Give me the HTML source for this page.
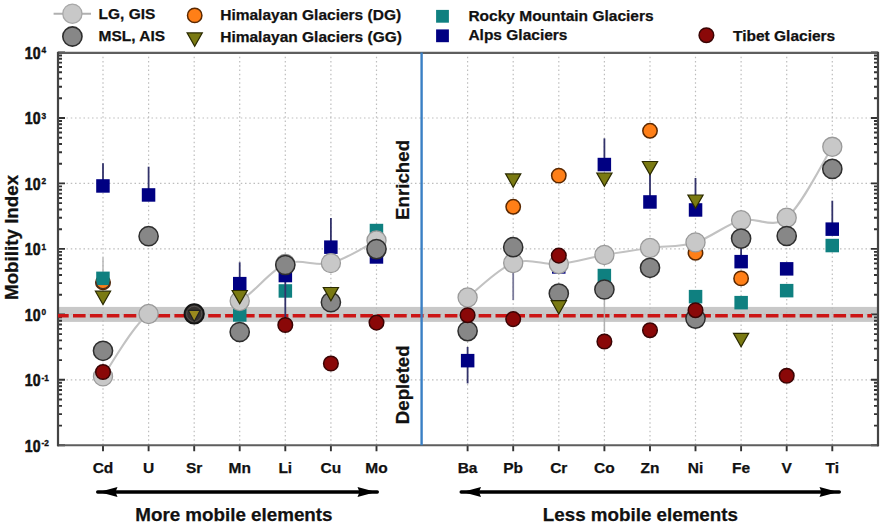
<!DOCTYPE html><html><head><meta charset="utf-8"><style>html,body{margin:0;padding:0;background:#fff;width:890px;height:528px;overflow:hidden}svg{display:block}text{font-family:"Liberation Sans",sans-serif;font-weight:bold;fill:#111;stroke:#111;stroke-width:0.25px}</style></head><body>
<svg width="890" height="528" viewBox="0 0 890 528">
<rect x="58" y="306.9" width="820" height="15" fill="#c8c8c8"/>
<path d="M103.0 52.5V445.3 M148.6 52.5V445.3 M194.2 52.5V445.3 M239.7 52.5V445.3 M285.3 52.5V445.3 M330.9 52.5V445.3 M376.5 52.5V445.3 M467.6 52.5V445.3 M513.2 52.5V445.3 M558.8 52.5V445.3 M604.4 52.5V445.3 M650.0 52.5V445.3 M695.5 52.5V445.3 M741.1 52.5V445.3 M786.7 52.5V445.3 M832.3 52.5V445.3 M58 118.0H878 M58 183.4H878 M58 248.9H878 M58 314.4H878 M58 379.8H878" stroke="#bdbdbd" stroke-width="1.2" stroke-dasharray="1.5 2.75" fill="none"/>
<path d="M58 98.3h4M878 98.3h-4 M58 86.7h4M878 86.7h-4 M58 78.6h4M878 78.6h-4 M58 72.2h4M878 72.2h-4 M58 67.0h4M878 67.0h-4 M58 62.6h4M878 62.6h-4 M58 58.8h4M878 58.8h-4 M58 55.5h4M878 55.5h-4 M58 163.7h4M878 163.7h-4 M58 152.2h4M878 152.2h-4 M58 144.0h4M878 144.0h-4 M58 137.7h4M878 137.7h-4 M58 132.5h4M878 132.5h-4 M58 128.1h4M878 128.1h-4 M58 124.3h4M878 124.3h-4 M58 121.0h4M878 121.0h-4 M58 229.2h4M878 229.2h-4 M58 217.7h4M878 217.7h-4 M58 209.5h4M878 209.5h-4 M58 203.1h4M878 203.1h-4 M58 198.0h4M878 198.0h-4 M58 193.6h4M878 193.6h-4 M58 189.8h4M878 189.8h-4 M58 186.4h4M878 186.4h-4 M58 294.7h4M878 294.7h-4 M58 283.1h4M878 283.1h-4 M58 275.0h4M878 275.0h-4 M58 268.6h4M878 268.6h-4 M58 263.4h4M878 263.4h-4 M58 259.0h4M878 259.0h-4 M58 255.2h4M878 255.2h-4 M58 251.9h4M878 251.9h-4 M58 360.1h4M878 360.1h-4 M58 348.6h4M878 348.6h-4 M58 340.4h4M878 340.4h-4 M58 334.1h4M878 334.1h-4 M58 328.9h4M878 328.9h-4 M58 324.5h4M878 324.5h-4 M58 320.7h4M878 320.7h-4 M58 317.4h4M878 317.4h-4 M58 425.6h4M878 425.6h-4 M58 414.1h4M878 414.1h-4 M58 405.9h4M878 405.9h-4 M58 399.5h4M878 399.5h-4 M58 394.4h4M878 394.4h-4 M58 390.0h4M878 390.0h-4 M58 386.2h4M878 386.2h-4 M58 382.8h4M878 382.8h-4 M58 52.5h7M878 52.5h-7 M58 118.0h7M878 118.0h-7 M58 183.4h7M878 183.4h-7 M58 248.9h7M878 248.9h-7 M58 314.4h7M878 314.4h-7 M58 379.8h7M878 379.8h-7 M58 445.3h7M878 445.3h-7 M103.0 445.3v6 M148.6 445.3v6 M194.2 445.3v6 M239.7 445.3v6 M285.3 445.3v6 M330.9 445.3v6 M376.5 445.3v6 M467.6 445.3v6 M513.2 445.3v6 M558.8 445.3v6 M604.4 445.3v6 M650.0 445.3v6 M695.5 445.3v6 M741.1 445.3v6 M786.7 445.3v6 M832.3 445.3v6" stroke="#333" stroke-width="1.9" fill="none"/>
<path d="M57 52.9H879M57 445.3H879" stroke="#5e5e5e" stroke-width="2.1" fill="none"/>
<path d="M58 51.9V446.3M878 51.9V446.3" stroke="#444" stroke-width="2.2" fill="none"/>
<path d="M58 315.7H872" stroke="#cc1515" stroke-width="3.4" stroke-dasharray="12.6 4.3" stroke-dashoffset="1.9" fill="none"/>
<path d="M513.2 263.0V300.0" stroke="#7a7a9a" stroke-width="1.8"/>
<path d="M604.4 289.5V332.0" stroke="#b0b0b0" stroke-width="1.5"/>
<path d="M103.0 257.6V277.0" stroke="#b8b8b8" stroke-width="1.5"/>
<path d="M421.6 52.5V445.3" stroke="#3a7fc4" stroke-width="2.4"/>
<circle cx="103.0" cy="282.4" r="7.2" fill="#ff7f17" stroke="#5a2800" stroke-width="1.5"/>
<circle cx="513.2" cy="206.8" r="7.2" fill="#ff7f17" stroke="#5a2800" stroke-width="1.5"/>
<circle cx="558.8" cy="175.6" r="7.2" fill="#ff7f17" stroke="#5a2800" stroke-width="1.5"/>
<circle cx="650.0" cy="130.8" r="7.2" fill="#ff7f17" stroke="#5a2800" stroke-width="1.5"/>
<circle cx="695.5" cy="252.8" r="7.2" fill="#ff7f17" stroke="#5a2800" stroke-width="1.5"/>
<circle cx="741.1" cy="278.4" r="7.2" fill="#ff7f17" stroke="#5a2800" stroke-width="1.5"/>
<rect x="96.2" y="271.6" width="13.5" height="13.5" fill="#0f8080"/>
<rect x="233.0" y="308.2" width="13.5" height="13.5" fill="#0f8080"/>
<rect x="278.6" y="284.2" width="13.5" height="13.5" fill="#0f8080"/>
<rect x="369.7" y="223.8" width="13.5" height="13.5" fill="#0f8080"/>
<rect x="597.6" y="268.8" width="13.5" height="13.5" fill="#0f8080"/>
<rect x="688.8" y="289.9" width="13.5" height="13.5" fill="#0f8080"/>
<rect x="734.4" y="295.9" width="13.5" height="13.5" fill="#0f8080"/>
<rect x="779.9" y="283.9" width="13.5" height="13.5" fill="#0f8080"/>
<rect x="825.5" y="238.8" width="13.5" height="13.5" fill="#0f8080"/>
<path d="M95.8 281.4A7.2 7.2 0 0 0 110.2 281.4" fill="none" stroke="#4a3020" stroke-width="1.3"/>
<path d="M103.0 163.3V186.0" stroke="#32326a" stroke-width="1.8"/>
<path d="M148.6 166.7V195.0" stroke="#32326a" stroke-width="1.8"/>
<path d="M239.7 262.3V283.6" stroke="#32326a" stroke-width="1.8"/>
<path d="M285.3 277.0V319.0" stroke="#32326a" stroke-width="1.8"/>
<path d="M330.9 218.0V247.0" stroke="#32326a" stroke-width="1.8"/>
<path d="M604.4 138.4V164.5" stroke="#32326a" stroke-width="1.8"/>
<path d="M650.0 165.0V202.0" stroke="#32326a" stroke-width="1.8"/>
<path d="M695.5 178.0V210.0" stroke="#32326a" stroke-width="1.8"/>
<path d="M741.1 240.0V262.0" stroke="#32326a" stroke-width="1.8"/>
<path d="M832.3 200.7V229.0" stroke="#32326a" stroke-width="1.8"/>
<path d="M467.6 347.0V383.4" stroke="#32326a" stroke-width="1.8"/>
<rect x="96.2" y="179.2" width="13.5" height="13.5" fill="#000082"/>
<rect x="141.8" y="188.2" width="13.5" height="13.5" fill="#000082"/>
<rect x="233.0" y="276.9" width="13.5" height="13.5" fill="#000082"/>
<rect x="278.6" y="268.8" width="13.5" height="13.5" fill="#000082"/>
<rect x="324.1" y="240.4" width="13.5" height="13.5" fill="#000082"/>
<rect x="369.7" y="250.2" width="13.5" height="13.5" fill="#000082"/>
<rect x="460.9" y="353.9" width="13.5" height="13.5" fill="#000082"/>
<rect x="552.0" y="260.2" width="13.5" height="13.5" fill="#000082"/>
<rect x="597.6" y="157.8" width="13.5" height="13.5" fill="#000082"/>
<rect x="643.2" y="195.2" width="13.5" height="13.5" fill="#000082"/>
<rect x="688.8" y="203.2" width="13.5" height="13.5" fill="#000082"/>
<rect x="734.4" y="254.9" width="13.5" height="13.5" fill="#000082"/>
<rect x="779.9" y="262.1" width="13.5" height="13.5" fill="#000082"/>
<rect x="825.5" y="222.4" width="13.5" height="13.5" fill="#000082"/>
<path d="M103.0 376.4C110.6 366.0 133.4 324.4 148.6 314.0M239.7 301.0C254.9 292.7 270.1 270.3 285.3 264.0M285.3 264.0C300.5 257.7 315.7 267.0 330.9 263.1M330.9 263.1C346.1 259.2 368.9 244.3 376.5 240.5" stroke="#c2c2c2" stroke-width="2.1" fill="none"/>
<path d="M467.6 297.5C475.2 291.8 498.0 268.6 513.2 263.0M513.2 263.0C528.4 257.4 543.6 265.3 558.8 264.0M558.8 264.0C574.0 262.7 589.2 257.7 604.4 255.0M604.4 255.0C619.6 252.3 634.8 250.1 650.0 248.0M650.0 248.0C665.2 245.9 680.3 247.0 695.5 242.4M695.5 242.4C710.7 237.8 725.9 224.3 741.1 220.2M741.1 220.2C756.3 216.1 771.5 229.9 786.7 217.7M786.7 217.7C801.9 205.5 824.7 158.6 832.3 146.8" stroke="#c2c2c2" stroke-width="2.1" fill="none"/>
<circle cx="103.0" cy="376.4" r="9.55" fill="#c8c8c8" stroke="#9a9a9a" stroke-width="1.3"/>
<circle cx="148.6" cy="314.0" r="9.55" fill="#c8c8c8" stroke="#9a9a9a" stroke-width="1.3"/>
<circle cx="194.2" cy="314.0" r="9.55" fill="#c8c8c8" stroke="#9a9a9a" stroke-width="1.3"/>
<circle cx="239.7" cy="301.0" r="9.55" fill="#c8c8c8" stroke="#9a9a9a" stroke-width="1.3"/>
<circle cx="285.3" cy="264.0" r="9.55" fill="#c8c8c8" stroke="#9a9a9a" stroke-width="1.3"/>
<circle cx="330.9" cy="263.1" r="9.55" fill="#c8c8c8" stroke="#9a9a9a" stroke-width="1.3"/>
<circle cx="376.5" cy="240.5" r="9.55" fill="#c8c8c8" stroke="#9a9a9a" stroke-width="1.3"/>
<circle cx="467.6" cy="297.5" r="9.55" fill="#c8c8c8" stroke="#9a9a9a" stroke-width="1.3"/>
<circle cx="513.2" cy="263.0" r="9.55" fill="#c8c8c8" stroke="#9a9a9a" stroke-width="1.3"/>
<circle cx="558.8" cy="264.0" r="9.55" fill="#c8c8c8" stroke="#9a9a9a" stroke-width="1.3"/>
<circle cx="604.4" cy="255.0" r="9.55" fill="#c8c8c8" stroke="#9a9a9a" stroke-width="1.3"/>
<circle cx="650.0" cy="248.0" r="9.55" fill="#c8c8c8" stroke="#9a9a9a" stroke-width="1.3"/>
<circle cx="695.5" cy="242.4" r="9.55" fill="#c8c8c8" stroke="#9a9a9a" stroke-width="1.3"/>
<circle cx="741.1" cy="220.2" r="9.55" fill="#c8c8c8" stroke="#9a9a9a" stroke-width="1.3"/>
<circle cx="786.7" cy="217.7" r="9.55" fill="#c8c8c8" stroke="#9a9a9a" stroke-width="1.3"/>
<circle cx="832.3" cy="146.8" r="9.55" fill="#c8c8c8" stroke="#9a9a9a" stroke-width="1.3"/>
<circle cx="103.0" cy="350.8" r="9.6" fill="#878787" stroke="#2e2e2e" stroke-width="1.5"/>
<circle cx="148.6" cy="236.2" r="9.6" fill="#878787" stroke="#2e2e2e" stroke-width="1.5"/>
<circle cx="239.7" cy="332.0" r="9.6" fill="#878787" stroke="#2e2e2e" stroke-width="1.5"/>
<circle cx="285.3" cy="265.0" r="9.6" fill="#878787" stroke="#2e2e2e" stroke-width="1.5"/>
<circle cx="330.9" cy="302.2" r="9.6" fill="#878787" stroke="#2e2e2e" stroke-width="1.5"/>
<circle cx="376.5" cy="249.1" r="9.6" fill="#878787" stroke="#2e2e2e" stroke-width="1.5"/>
<circle cx="467.6" cy="331.1" r="9.6" fill="#878787" stroke="#2e2e2e" stroke-width="1.5"/>
<circle cx="513.2" cy="247.2" r="9.6" fill="#878787" stroke="#2e2e2e" stroke-width="1.5"/>
<circle cx="558.8" cy="293.5" r="9.6" fill="#878787" stroke="#2e2e2e" stroke-width="1.5"/>
<circle cx="604.4" cy="289.5" r="9.6" fill="#878787" stroke="#2e2e2e" stroke-width="1.5"/>
<circle cx="650.0" cy="267.8" r="9.6" fill="#878787" stroke="#2e2e2e" stroke-width="1.5"/>
<circle cx="695.5" cy="318.6" r="9.6" fill="#878787" stroke="#2e2e2e" stroke-width="1.5"/>
<circle cx="741.1" cy="238.6" r="9.6" fill="#878787" stroke="#2e2e2e" stroke-width="1.5"/>
<circle cx="786.7" cy="236.0" r="9.6" fill="#878787" stroke="#2e2e2e" stroke-width="1.5"/>
<circle cx="832.3" cy="168.9" r="9.6" fill="#878787" stroke="#2e2e2e" stroke-width="1.5"/>
<circle cx="194.2" cy="313.9" r="9.7" fill="#363230" stroke="#141414" stroke-width="1.8"/>
<circle cx="194.2" cy="313.9" r="7.6" fill="none" stroke="#5a5654" stroke-width="0.9"/>
<path d="M95.4 291.2H110.6L103.0 304.6Z" fill="#7a7a12" stroke="#2a2a00" stroke-width="1.2" stroke-linejoin="miter"/>
<path d="M232.1 290.5H247.3L239.7 303.9Z" fill="#7a7a12" stroke="#2a2a00" stroke-width="1.2" stroke-linejoin="miter"/>
<path d="M323.3 287.5H338.5L330.9 300.9Z" fill="#7a7a12" stroke="#2a2a00" stroke-width="1.2" stroke-linejoin="miter"/>
<path d="M505.6 173.9H520.8L513.2 187.3Z" fill="#7a7a12" stroke="#2a2a00" stroke-width="1.2" stroke-linejoin="miter"/>
<path d="M551.2 300.7H566.4L558.8 314.1Z" fill="#7a7a12" stroke="#2a2a00" stroke-width="1.2" stroke-linejoin="miter"/>
<path d="M596.8 173.0H612.0L604.4 186.4Z" fill="#7a7a12" stroke="#2a2a00" stroke-width="1.2" stroke-linejoin="miter"/>
<path d="M642.4 161.5H657.6L650.0 174.9Z" fill="#7a7a12" stroke="#2a2a00" stroke-width="1.2" stroke-linejoin="miter"/>
<path d="M687.9 195.0H703.1L695.5 208.4Z" fill="#7a7a12" stroke="#2a2a00" stroke-width="1.2" stroke-linejoin="miter"/>
<path d="M733.5 333.3H748.7L741.1 346.7Z" fill="#7a7a12" stroke="#2a2a00" stroke-width="1.2" stroke-linejoin="miter"/>
<path d="M188.2 310.3H200.2L194.2 321.5Z" fill="#9a8a1e" stroke="#222" stroke-width="1.2" stroke-linejoin="miter"/>
<circle cx="103.0" cy="372.0" r="7.3" fill="#8a0808" stroke="#3a0404" stroke-width="1.5"/>
<circle cx="285.3" cy="325.0" r="7.3" fill="#8a0808" stroke="#3a0404" stroke-width="1.5"/>
<circle cx="330.9" cy="363.5" r="7.3" fill="#8a0808" stroke="#3a0404" stroke-width="1.5"/>
<circle cx="376.5" cy="322.6" r="7.3" fill="#8a0808" stroke="#3a0404" stroke-width="1.5"/>
<circle cx="467.6" cy="315.2" r="7.3" fill="#8a0808" stroke="#3a0404" stroke-width="1.5"/>
<circle cx="513.2" cy="319.1" r="7.3" fill="#8a0808" stroke="#3a0404" stroke-width="1.5"/>
<circle cx="558.8" cy="255.6" r="7.3" fill="#8a0808" stroke="#3a0404" stroke-width="1.5"/>
<circle cx="604.4" cy="341.5" r="7.3" fill="#8a0808" stroke="#3a0404" stroke-width="1.5"/>
<circle cx="650.0" cy="330.2" r="7.3" fill="#8a0808" stroke="#3a0404" stroke-width="1.5"/>
<circle cx="695.5" cy="310.2" r="7.3" fill="#8a0808" stroke="#3a0404" stroke-width="1.5"/>
<circle cx="786.7" cy="375.8" r="7.3" fill="#8a0808" stroke="#3a0404" stroke-width="1.5"/>
<text transform="translate(40.5,58.7) scale(0.88,1)" font-size="16" text-anchor="end" style="stroke-width:0.55px">10</text>
<text transform="translate(41.6,53.2) scale(0.88,1)" font-size="9.4" style="stroke-width:0.35px">4</text>
<text transform="translate(40.5,124.2) scale(0.88,1)" font-size="16" text-anchor="end" style="stroke-width:0.55px">10</text>
<text transform="translate(41.6,118.7) scale(0.88,1)" font-size="9.4" style="stroke-width:0.35px">3</text>
<text transform="translate(40.5,189.6) scale(0.88,1)" font-size="16" text-anchor="end" style="stroke-width:0.55px">10</text>
<text transform="translate(41.6,184.1) scale(0.88,1)" font-size="9.4" style="stroke-width:0.35px">2</text>
<text transform="translate(40.5,255.1) scale(0.88,1)" font-size="16" text-anchor="end" style="stroke-width:0.55px">10</text>
<text transform="translate(41.6,249.6) scale(0.88,1)" font-size="9.4" style="stroke-width:0.35px">1</text>
<text transform="translate(40.5,320.6) scale(0.88,1)" font-size="16" text-anchor="end" style="stroke-width:0.55px">10</text>
<text transform="translate(41.6,315.1) scale(0.88,1)" font-size="9.4" style="stroke-width:0.35px">0</text>
<text transform="translate(40.5,386.0) scale(0.88,1)" font-size="16" text-anchor="end" style="stroke-width:0.55px">10</text>
<text transform="translate(41.6,380.5) scale(0.88,1)" font-size="9.4" style="stroke-width:0.35px">-1</text>
<text transform="translate(40.5,451.5) scale(0.88,1)" font-size="16" text-anchor="end" style="stroke-width:0.55px">10</text>
<text transform="translate(41.6,446.0) scale(0.88,1)" font-size="9.4" style="stroke-width:0.35px">-2</text>
<text x="103.0" y="473" font-size="15.5" text-anchor="middle">Cd</text>
<text x="148.6" y="473" font-size="15.5" text-anchor="middle">U</text>
<text x="194.2" y="473" font-size="15.5" text-anchor="middle">Sr</text>
<text x="239.7" y="473" font-size="15.5" text-anchor="middle">Mn</text>
<text x="285.3" y="473" font-size="15.5" text-anchor="middle">Li</text>
<text x="330.9" y="473" font-size="15.5" text-anchor="middle">Cu</text>
<text x="376.5" y="473" font-size="15.5" text-anchor="middle">Mo</text>
<text x="467.6" y="473" font-size="15.5" text-anchor="middle">Ba</text>
<text x="513.2" y="473" font-size="15.5" text-anchor="middle">Pb</text>
<text x="558.8" y="473" font-size="15.5" text-anchor="middle">Cr</text>
<text x="604.4" y="473" font-size="15.5" text-anchor="middle">Co</text>
<text x="650.0" y="473" font-size="15.5" text-anchor="middle">Zn</text>
<text x="695.5" y="473" font-size="15.5" text-anchor="middle">Ni</text>
<text x="741.1" y="473" font-size="15.5" text-anchor="middle">Fe</text>
<text x="786.7" y="473" font-size="15.5" text-anchor="middle">V</text>
<text x="832.3" y="473" font-size="15.5" text-anchor="middle">Ti</text>
<text transform="translate(17.5,237.4) rotate(-90)" font-size="18.8" text-anchor="middle">Mobility Index</text>
<text transform="translate(408.6,179.9) rotate(-90)" font-size="18.7" text-anchor="middle">Enriched</text>
<text transform="translate(408.6,384.8) rotate(-90)" font-size="18.7" text-anchor="middle">Depleted</text>
<path d="M97.7 492H377.3" stroke="#000" stroke-width="3.4" stroke-linecap="round"/><path d="M99.0 492L117.5 487.1L115.5 492L117.5 496.9Z" fill="#000"/><path d="M376.0 492L357.5 487.1L359.5 492L357.5 496.9Z" fill="#000"/>
<path d="M461.2 492H839.3" stroke="#000" stroke-width="3.4" stroke-linecap="round"/><path d="M462.5 492L481.0 487.1L479.0 492L481.0 496.9Z" fill="#000"/><path d="M838.0 492L819.5 487.1L821.5 492L819.5 496.9Z" fill="#000"/>
<text x="233.9" y="520.8" font-size="18.8" text-anchor="middle">More mobile elements</text>
<text x="640.4" y="520.8" font-size="18.8" text-anchor="middle">Less mobile elements</text>
<path d="M53.6 13.7H91" stroke="#b0b0b0" stroke-width="2"/>
<circle cx="72.4" cy="13.7" r="9.6" fill="#c8c8c8" stroke="#a8a8a8" stroke-width="1.3"/>
<circle cx="72.4" cy="36.5" r="9.6" fill="#878787" stroke="#2e2e2e" stroke-width="1.6"/>
<text x="98.5" y="18.6" font-size="15.5">LG, GIS</text>
<text x="98.5" y="41.2" font-size="15.5">MSL, AIS</text>
<circle cx="194.7" cy="15.4" r="7.2" fill="#ff7f17" stroke="#5a2800" stroke-width="1.5"/>
<path d="M187.1 32.9H202.3L194.7 46.3Z" fill="#7a7a12" stroke="#2a2a00" stroke-width="1.2" stroke-linejoin="miter"/>
<text x="220.2" y="20.4" font-size="15.5">Himalayan Glaciers (DG)</text>
<text x="220.2" y="42.1" font-size="15.5">Himalayan Glaciers (GG)</text>
<rect x="436.1" y="9.9" width="12.8" height="12.8" fill="#0f8080"/>
<rect x="436.1" y="29.4" width="12.8" height="12.8" fill="#000082"/>
<text x="468.4" y="21.3" font-size="15.5">Rocky Mountain Glaciers</text>
<text x="468.4" y="40.2" font-size="15.5">Alps Glaciers</text>
<circle cx="706.4" cy="35.2" r="7.3" fill="#8a0808" stroke="#3a0404" stroke-width="1.5"/>
<text x="733" y="40.6" font-size="15.5">Tibet Glaciers</text>
</svg></body></html>
